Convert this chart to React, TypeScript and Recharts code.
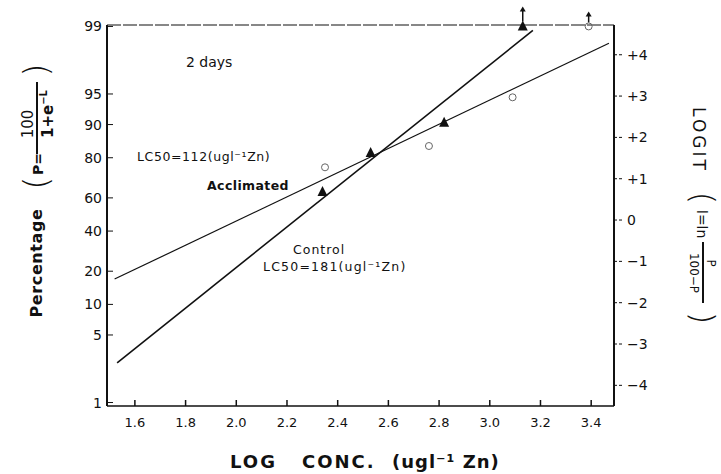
import { ComposedChart, Line, Scatter, XAxis, YAxis, ReferenceLine } from 'recharts';

// log concentration ticks
const xTicks = [1.6, 1.8, 2.0, 2.2, 2.4, 2.6, 2.8, 3.0, 3.2, 3.4];
// left axis: percentage on a logit scale
const percentTicks = [1, 5, 10, 20, 40, 60, 80, 90, 95, 99];
// right axis: logit units
const logitTicks = [-4, -3, -2, -1, 0, 1, 2, 3, 4];

// fitted lines (x = log conc, p = percent)
const controlLine = [
  { x: 1.53, p: 2.6 },
  { x: 3.17, p: 98.9 },
];
const acclimatedLine = [
  { x: 1.52, p: 17.1 },
  { x: 3.47, p: 98.5 },
];

// observed points, "up" = off the scale (100%)
const controlPts = [
  { x: 2.34, p: 63.4, up: false },
  { x: 2.53, p: 81.8, up: false },
  { x: 2.82, p: 90.4, up: false },
  { x: 3.13, p: 99, up: true },
];
const acclimatedPts = [
  { x: 2.35, p: 76, up: false },
  { x: 2.76, p: 84.2, up: false },
  { x: 3.09, p: 94.6, up: false },
  { x: 3.39, p: 99, up: true },
];

const logit = (p: number) => Math.log(p / (100 - p));
const toRows = (arr: { x: number; p: number; up?: boolean }[]) =>
  arr.map((d) => ({ x: d.x, y: logit(d.p), up: d.up }));

const LEFT_DOMAIN: [number, number] = [-4.68, 4.63];
const RIGHT_DOMAIN: [number, number] = [-4.5, 4.72];
const FONT = '"DejaVu Sans", sans-serif';
const INK = '#111';

const XTick = (props: any) => {
  const { x, y, payload } = props;
  return (
    <g>
      <line x1={x} x2={x} y1={y} y2={y - 6} stroke={INK} strokeWidth={1.5} />
      <text x={x} y={y + 21} textAnchor="middle" fontSize={13} fontFamily={FONT} fill={INK}>
        {payload.value.toFixed(1)}
      </text>
    </g>
  );
};

const LeftTick = (props: any) => {
  const { x, y, payload } = props;
  const pct = Math.round(100 / (1 + Math.exp(-payload.value)));
  return (
    <g>
      <line x1={x} x2={x + 6} y1={y} y2={y} stroke={INK} strokeWidth={1} />
      <text x={x - 5} y={y + 5} textAnchor="end" fontSize={14} fontFamily={FONT} fill={INK}>
        {pct}
      </text>
    </g>
  );
};

const RightTick = (props: any) => {
  const { x, y, payload } = props;
  const v = payload.value;
  const label = v > 0 ? `+${v}` : v < 0 ? `−${-v}` : '0';
  return (
    <g>
      <line x1={x} x2={x + 9} y1={y} y2={y} stroke={INK} strokeWidth={1} strokeDasharray="3 2" />
      <text x={x + 13} y={y + 5} textAnchor="start" fontSize={14} fontFamily={FONT} fill={INK}>
        {label}
      </text>
    </g>
  );
};

const Arrow = ({ cx, top, bottom }: { cx: number; top: number; bottom: number }) => (
  <g>
    <line x1={cx} x2={cx} y1={bottom} y2={top + 3} stroke={INK} strokeWidth={1.5} />
    <path d={`M${cx - 3},${top + 5} L${cx},${top} L${cx + 3},${top + 5} Z`} fill={INK} />
  </g>
);

const TriangleShape = (props: any) => {
  const { cx, cy, payload } = props;
  return (
    <g>
      <path d={`M${cx},${cy - 6} L${cx - 5},${cy + 4} L${cx + 5},${cy + 4} Z`} fill={INK} />
      {payload.up && <Arrow cx={cx} top={cy - 20} bottom={cy - 5} />}
    </g>
  );
};

const CircleShape = (props: any) => {
  const { cx, cy, payload } = props;
  return (
    <g>
      <circle cx={cx} cy={cy} r={3.5} fill="none" stroke="#666" strokeWidth={1} />
      {payload.up && <Arrow cx={cx} top={cy - 15} bottom={cy - 4} />}
    </g>
  );
};

export default function App() {
  const ctrlLine = toRows(controlLine);
  const accLine = toRows(acclimatedLine);
  const ctrlPts = toRows(controlPts);
  const accPts = toRows(acclimatedPts);

  return (
    <div style={{ position: 'absolute', left: 0, top: 0, width: 721, height: 474, background: '#fff' }}>
      <ComposedChart width={721} height={474} margin={{ top: 25, right: 47, bottom: 38, left: 47 }}>
        <XAxis
          dataKey="x"
          type="number"
          domain={[1.49, 3.49]}
          ticks={xTicks}
          height={30}
          tickSize={0}
          tickMargin={0}
          tickLine={false}
          axisLine={{ stroke: INK, strokeWidth: 1.5 }}
          tick={<XTick />}
        />
        <YAxis
          yAxisId="left"
          type="number"
          domain={LEFT_DOMAIN}
          ticks={percentTicks.map((p) => logit(p))}
          width={60}
          tickSize={0}
          tickMargin={0}
          tickLine={false}
          axisLine={{ stroke: INK, strokeWidth: 2 }}
          tick={<LeftTick />}
        />
        <YAxis
          yAxisId="right"
          orientation="right"
          type="number"
          domain={RIGHT_DOMAIN}
          ticks={logitTicks}
          allowDataOverflow
          width={60}
          tickSize={0}
          tickMargin={0}
          tickLine={false}
          axisLine={{ stroke: INK, strokeWidth: 2 }}
          tick={<RightTick />}
        />
        <ReferenceLine yAxisId="left" y={LEFT_DOMAIN[1]} stroke={INK} strokeWidth={1.2} strokeDasharray="14 2" />
        <Line
          yAxisId="left"
          data={ctrlLine}
          dataKey="y"
          stroke={INK}
          strokeWidth={1.6}
          dot={false}
          isAnimationActive={false}
        />
        <Line
          yAxisId="left"
          data={accLine}
          dataKey="y"
          stroke={INK}
          strokeWidth={1.2}
          dot={false}
          isAnimationActive={false}
        />
        <Scatter yAxisId="left" data={ctrlPts} dataKey="y" shape={<TriangleShape />} isAnimationActive={false} />
        <Scatter yAxisId="left" data={accPts} dataKey="y" shape={<CircleShape />} isAnimationActive={false} />
      </ComposedChart>

      <svg
        width={721}
        height={474}
        style={{ position: 'absolute', left: 0, top: 0, pointerEvents: 'none' }}
        fontFamily={FONT}
        fill={INK}
      >
        <text x={186} y={67} fontSize={14}>2 days</text>
        <text x={137} y={161} fontSize={12.5} letterSpacing={0.6}>LC50=112(ugl⁻¹Zn)</text>
        <text x={207} y={190} fontSize={12.5} fontWeight="bold" letterSpacing={0.4}>Acclimated</text>
        <text x={293} y={254} fontSize={12.5} letterSpacing={1}>Control</text>
        <text x={263} y={271} fontSize={12.5} letterSpacing={1.2}>LC50=181(ugl⁻¹Zn)</text>

        {/* x axis title */}
        <text y={468} fontSize={18} fontWeight="bold" letterSpacing={2}>
          <tspan x={230}>LOG</tspan>
          <tspan x={302}>CONC.</tspan>
          <tspan x={392} letterSpacing={1}>(ugl⁻¹ Zn)</tspan>
        </text>

        {/* left axis title */}
        <g transform="translate(37,190) rotate(-90)">
          <text x={-73} y={5} fontSize={16} fontWeight="bold" textAnchor="middle" letterSpacing={0.6}>Percentage</text>
          <text x={7} y={11} fontSize={34} fontWeight={200} textAnchor="middle">(</text>
          <text x={15} y={6} fontSize={14} fontWeight="bold">P=</text>
          <line x1={36} x2={108} y1={0} y2={0} stroke={INK} strokeWidth={2} />
          <text x={66} y={-4} fontSize={15} textAnchor="middle">100</text>
          <text x={76} y={16} fontSize={15} textAnchor="middle" fontWeight="bold">
            1+e<tspan dy={-6} fontSize={10}>−L</tspan>
          </text>
          <text x={120} y={11} fontSize={34} fontWeight={200} textAnchor="middle">)</text>
        </g>

        {/* right axis title */}
        <g transform="translate(700,200) rotate(90)">
          <text x={-60} y={7} fontSize={17} textAnchor="middle" letterSpacing={3}>LOGIT</text>
          <text x={-2} y={8} fontSize={32} fontWeight={200} textAnchor="middle">(</text>
          <text x={10} y={3} fontSize={14}>l=ln</text>
          <line x1={42} x2={103} y1={-3} y2={-3} stroke={INK} strokeWidth={2} />
          <text x={63} y={-7} fontSize={12} textAnchor="middle">P</text>
          <text x={73} y={10} fontSize={12} textAnchor="middle">100−P</text>
          <text x={118} y={8} fontSize={32} fontWeight={200} textAnchor="middle">)</text>
        </g>
      </svg>
    </div>
  );
}
